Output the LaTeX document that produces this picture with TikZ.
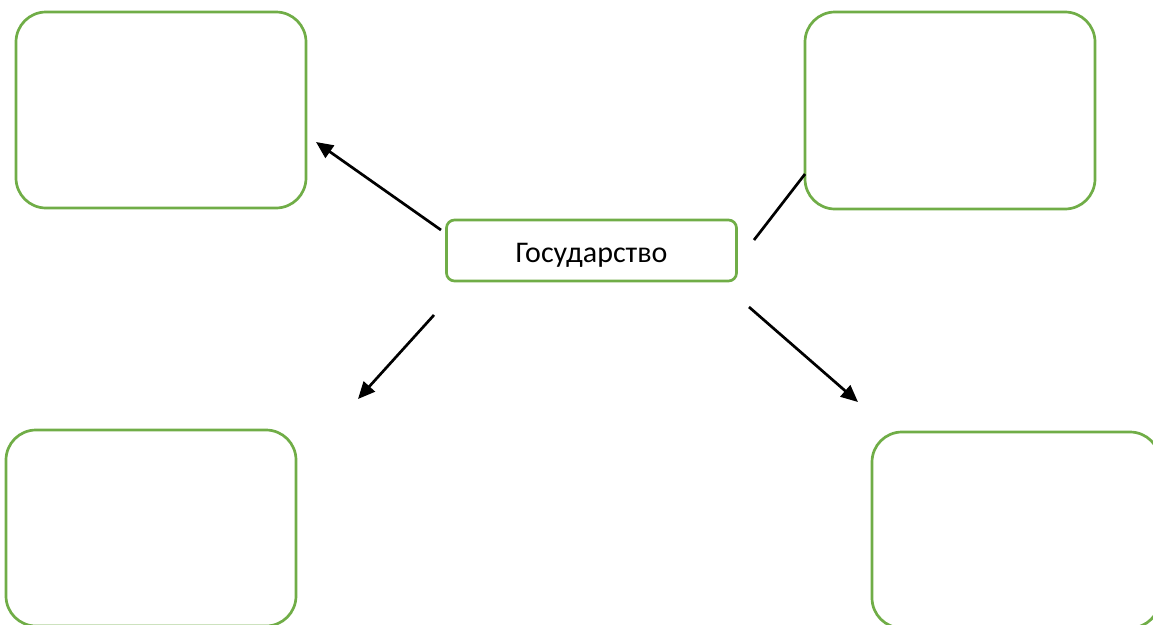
\documentclass[tikz,border=0pt]{standalone}
\usepackage{fontspec}
\setmainfont{Carlito}
\usetikzlibrary{arrows.meta}
\definecolor{boxgreen}{RGB}{112,173,71}
\begin{document}
\begin{tikzpicture}[x=1pt,y=-1pt,
  box/.style={draw=boxgreen,line width=2.7pt,rounded corners=30pt,fill=none},
  cbox/.style={draw=boxgreen,line width=2.7pt,rounded corners=8pt,minimum width=290pt,minimum height=61pt,inner sep=0pt},
  lbl/.style={font=\fontsize{30}{36}\selectfont,inner sep=0pt},
  conn/.style={black,line width=2.7pt},
  arr/.style={conn,-{Triangle[length=17pt,width=15pt]}}]
\useasboundingbox (0,0) rectangle (1153,624);
\clip (0,0) rectangle (1153,624);
\draw[box] (16,12) rectangle (306,208);
\draw[box] (805,12) rectangle (1095,209);
\draw[box] (6,430) rectangle (296,626);
\draw[box] (872,432) rectangle (1160,628);
\node[cbox] (c) at (591.5,250.5) {};
\node[lbl,anchor=base] (t) at (591.5,262) {Государство};
\coordinate (a1s) at (441,230);
\coordinate (a1e) at (316,142);
\coordinate (a2s) at (754,240);
\coordinate (a2e) at (805,174);
\coordinate (a3s) at (434,315);
\coordinate (a3e) at (358,399);
\coordinate (a4s) at (749,307);
\coordinate (a4e) at (858,402);
\draw[arr] (a1s) -- (a1e);
\draw[conn] (a2s) -- (a2e);
\draw[arr] (a3s) -- (a3e);
\draw[arr] (a4s) -- (a4e);
\end{tikzpicture}
\end{document}
